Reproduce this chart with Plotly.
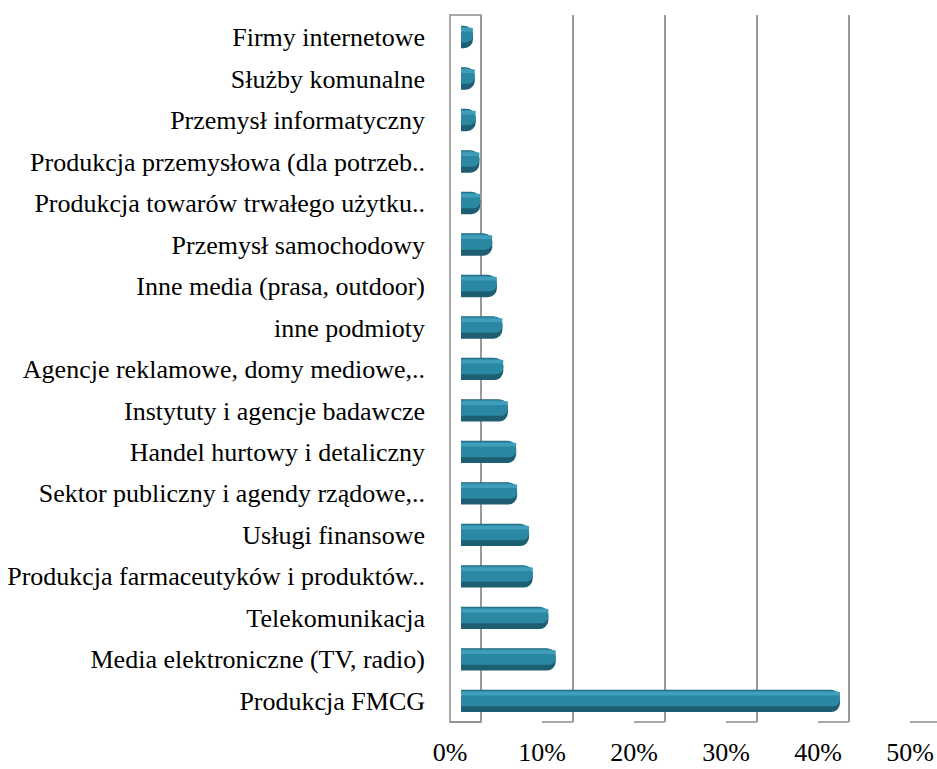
import plotly.graph_objects as go

# ---- data ----
categories = [
    "Firmy internetowe",
    "Służby komunalne",
    "Przemysł informatyczny",
    "Produkcja przemysłowa (dla potrzeb..",
    "Produkcja towarów trwałego użytku..",
    "Przemysł samochodowy",
    "Inne media (prasa, outdoor)",
    "inne podmioty",
    "Agencje reklamowe, domy mediowe,..",
    "Instytuty i agencje badawcze",
    "Handel hurtowy i detaliczny",
    "Sektor publiczny i agendy rządowe,..",
    "Usługi finansowe",
    "Produkcja farmaceutyków i produktów..",
    "Telekomunikacja",
    "Media elektroniczne (TV, radio)",
    "Produkcja FMCG",
]
shares = [0.013, 0.015, 0.016, 0.020, 0.021, 0.034, 0.039, 0.045, 0.046,
          0.051, 0.060, 0.061, 0.074, 0.078, 0.095, 0.103, 0.412]
tick_values = [0, 0.1, 0.2, 0.3, 0.4, 0.5]
tick_labels = ["0%", "10%", "20%", "30%", "40%", "50%"]

# ---- 3D-look geometry (pixels) ----
W, H = 937, 769
L, R, T, B = 440, 937, 15, 722
PPU = 920.0           # pixels per 1.0 (100%)
FRONT0, BACK0, BAR0 = 450, 481, 461
DEPTH = (BACK0 - FRONT0) / PPU


def axrange(zero_px):
    return [(L - zero_px) / PPU, (R - zero_px) / PPU]


FONT = "Liberation Serif, Times New Roman, serif"

fig = go.Figure()

# cylinder-like bars: dark body, mid tone, highlight
fig.add_trace(go.Bar(y=categories, x=shares, orientation="h", xaxis="x3",
                     width=0.54, offset=-0.27,
                     marker=dict(color="#1e5e72", cornerradius=9,
                                 line=dict(width=0)),
                     hoverinfo="skip", showlegend=False))
fig.add_trace(go.Bar(y=categories, x=shares, orientation="h", xaxis="x3",
                     width=0.38, offset=-0.25,
                     marker=dict(color="#2a88a3", cornerradius=7,
                                 line=dict(width=0)),
                     hoverinfo="skip", showlegend=False))
fig.add_trace(go.Bar(y=categories, x=shares, orientation="h", xaxis="x3",
                     width=0.09, offset=-0.22,
                     marker=dict(color="#3f9fba", cornerradius=3,
                                 line=dict(width=0)),
                     hoverinfo="skip", showlegend=False))

# invisible traces to hold the back-wall grid axis and the label axis
fig.add_trace(go.Scatter(x=[0], y=[categories[0]], xaxis="x2", mode="markers",
                         marker=dict(opacity=0), hoverinfo="skip",
                         showlegend=False))
fig.add_trace(go.Scatter(x=[0], y=[categories[0]], xaxis="x", mode="markers",
                         marker=dict(opacity=0), hoverinfo="skip",
                         showlegend=False))

shapes = []
# left side wall
shapes.append(dict(type="rect", xref="x", yref="paper", x0=0, x1=DEPTH,
                   y0=0, y1=1, line=dict(color="#8c8c8c", width=1.5),
                   layer="below"))
# floor lines from front ticks to back gridlines
for v in tick_values:
    shapes.append(dict(type="line", xref="x2", yref="paper", x0=v - DEPTH,
                       x1=v, y0=0, y1=0,
                       line=dict(color="#8c8c8c", width=1.5), layer="below"))

n = len(categories)
fig.update_layout(
    width=W, height=H,
    margin=dict(l=L, r=W - R, t=T, b=H - B),
    paper_bgcolor="white", plot_bgcolor="white",
    barmode="overlay",
    font=dict(family=FONT, size=26, color="#000000"),
    shapes=shapes,
    xaxis=dict(range=axrange(FRONT0), tickvals=tick_values,
               ticktext=tick_labels, showgrid=False, zeroline=False,
               showline=False, ticks="", ticklabelstandoff=12,
               automargin=False,
               tickfont=dict(family=FONT, size=26, color="#000000"),
               fixedrange=True),
    xaxis2=dict(range=axrange(BACK0), overlaying="x", side="bottom",
                tickvals=tick_values, showticklabels=False, showgrid=True,
                gridcolor="#9a9a9a", gridwidth=1.5, zeroline=False,
                showline=False, ticks="", layer="below traces",
                automargin=False),
    xaxis3=dict(range=axrange(BAR0), overlaying="x", side="bottom",
                showticklabels=False, showgrid=False, zeroline=False,
                showline=False, ticks="", automargin=False),
    yaxis=dict(categoryorder="array", categoryarray=categories,
               range=[n - 0.49, -0.53], showgrid=False, zeroline=False,
               showline=False, ticks="", ticklabelstandoff=14,
               automargin=False,
               tickfont=dict(family=FONT, size=26, color="#000000")),
)

fig.write_html("out.html")
